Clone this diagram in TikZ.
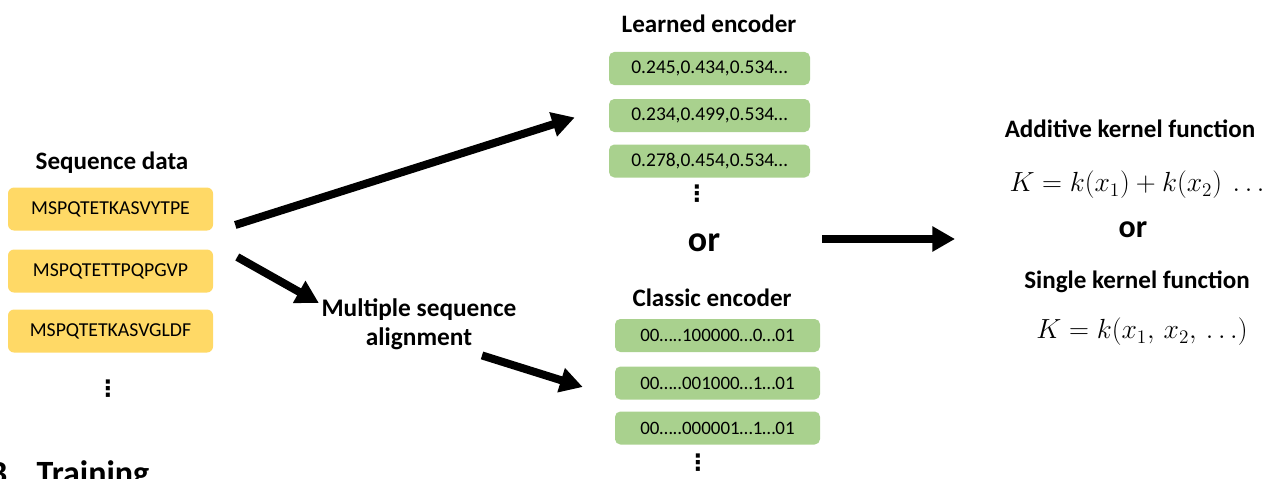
\documentclass[tikz,border=0pt]{standalone}
\usepackage{fontspec}
\setmainfont{Carlito}
\newfontfamily\dotsfont{DejaVu Sans}
\usepackage{amsmath}
\usetikzlibrary{arrows.meta,positioning}

\definecolor{seqyellow}{HTML}{FFD966}
\definecolor{encgreen}{HTML}{A9D18E}

\begin{document}
\begin{tikzpicture}[x=0.75pt, y=-0.75pt,
  seqbox/.style={fill=seqyellow, rounded corners=4.5pt, minimum width=153.75pt, minimum height=32.25pt, inner sep=0pt, font=\fontsize{14.8}{16}\selectfont},
  encbox/.style={fill=encgreen, rounded corners=4pt, minimum width=150.75pt, minimum height=24.75pt, inner sep=0pt, font=\fontsize{14.6}{16}\selectfont},
  head/.style={font=\fontsize{18.8}{21}\selectfont\bfseries},
  orword/.style={font=\fontsize{27}{30}\selectfont\bfseries},
  formula/.style={font=\fontsize{20}{23}\selectfont},
  moredots/.style={inner sep=0pt, font=\fontsize{17}{19}\selectfont\dotsfont\bfseries},
  bigarrow/.style={line width=6pt, -{Triangle[length=17pt,width=18pt]}}]
	\useasboundingbox (0,0) rectangle (1273,478);
	
	% sequence data
	\node[head] (seqhead) at (112,163) {Sequence data};
	\node[seqbox] (seq1) at (110.5,209) {MSPQTETKASVYTPE};
	\node[seqbox] (seq2) at (110.5,271) {MSPQTETTPQPGVP};
	\node[seqbox] (seq3) at (110.5,331) {MSPQTETKASVGLDF};
	\node[moredots] (seqdots) at (108,389) {⋮};
	
	% encoders
	\node[head] (lrnhead) at (709,24) {Learned encoder};
	\node[encbox] (lrn1) at (709.5,68.5) {0.245,0.434,0.534…};
	\node[encbox] (lrn2) at (709.5,115.5) {0.234,0.499,0.534…};
	\node[encbox] (lrn3) at (709.5,161) {0.278,0.454,0.534…};
	\node[moredots] (lrndots) at (697,194) {⋮};
	\node[orword] (or1) at (704,243) {or};
	\node[head] (clshead) at (712,298) {Classic encoder};
	\node[encbox, minimum width=153.75pt, font=\fontsize{14.2}{16}\selectfont] (cls1) at (717.5,335.5) {00…..100000…0…01};
	\node[encbox, minimum width=153.75pt, font=\fontsize{14.2}{16}\selectfont] (cls2) at (717.5,383) {00…..001000…1…01};
	\node[encbox, minimum width=153.75pt, font=\fontsize{14.2}{16}\selectfont] (cls3) at (717.5,428) {00…..000001…1…01};
	\node[moredots] (clsdots) at (698,463) {⋮};
	
	\node[head, align=center, font=\fontsize{19}{22}\selectfont\bfseries] (msa) at (419,324) {Multiple sequence\\alignment};
	
	% kernels
	\node[head] (addhead) at (1130,129) {Additive kernel function};
	\node[formula] (addK) at (1137,185) {$K = k(x_1) + k(x_2)\ \ldots$};
	\node[orword, font=\fontsize{24}{27}\selectfont\bfseries] (or2) at (1133,230) {or};
	\node[head] (sglhead) at (1137,282) {Single kernel function};
	\node[formula] (sglK) at (1142,332) {$K = k(x_1,\, x_2,\, \ldots)$};
	
	\coordinate (encout) at (822,239);
	\coordinate (kernin) at (955,239);
	
	\draw[bigarrow] ([shift={(22,16)}]seq1.east) -- ([shift={(-34,2)}]lrn2.west);
	\draw[bigarrow] ([shift={(24,-14)}]seq2.east) -- ([shift={(2,-21)}]msa.west);
	\draw[bigarrow] ([shift={(63,1)}]msa.south) -- ([shift={(-32,4)}]cls2.west);
	\draw[bigarrow] (encout) -- (kernin);
	
	\begin{scope}
		\clip (0,0) rectangle (1273,478);
		\node[anchor=base west, inner sep=0pt, font=\fontsize{25.5}{28}\selectfont\bfseries] (train) at (-12,484) {B\hspace{22pt}Training};
	\end{scope}
\end{tikzpicture}
\end{document}
